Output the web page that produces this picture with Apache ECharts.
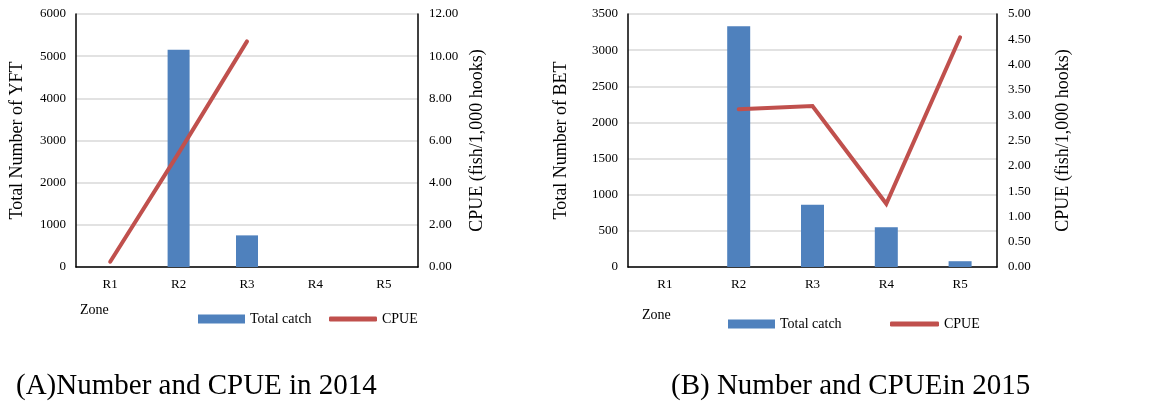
<!DOCTYPE html>
<html>
<head>
<meta charset="utf-8">
<script src="https://cdn.jsdelivr.net/npm/echarts@6/dist/echarts.min.js"></script>
<style>
html,body{margin:0;padding:0;background:#fff;}
#c{width:1163px;height:407px;}
</style>
</head>
<body>
<div id="c"></div>
<script>
const categories = ['R1', 'R2', 'R3', 'R4', 'R5'];
const catch2014 = [0, 5150, 750, 0, 0];
const cpue2014 = [0.25, 5.4, 10.7, null, null];
const catch2015 = [0, 3330, 860, 550, 80];
const cpue2015 = [null, 3.12, 3.18, 1.25, 4.54];
const leftTicks2014 = { min: 0, max: 6000, interval: 1000 };
const rightTicks2014 = { min: 0, max: 12, interval: 2 };
const leftTicks2015 = { min: 0, max: 3500, interval: 500 };
const rightTicks2015 = { min: 0, max: 5, interval: 0.5 };

const FONT = '"Liberation Serif", "Times New Roman", serif';
const BLUE = '#4f81bd';
const RED = '#c0504d';

const chart = echarts.init(document.getElementById('c'));

function xAxis(gi) {
  return {
    type: 'category', gridIndex: gi, data: categories, boundaryGap: true,
    axisLine: { show: true, lineStyle: { color: '#000', width: 1.5 } },
    axisTick: { show: false },
    axisLabel: { color: '#000', fontFamily: FONT, fontSize: 13, margin: 11 },
    splitLine: { show: false }
  };
}
function yLeft(gi, t, name, gap) {
  return {
    type: 'value', gridIndex: gi, min: t.min, max: t.max, interval: t.interval,
    position: 'left',
    name: name, nameLocation: 'middle', nameRotate: 90, nameGap: gap,
    nameTextStyle: { color: '#000', fontFamily: FONT, fontSize: 18 },
    axisLine: { show: true, lineStyle: { color: '#000', width: 1.5 } },
    axisTick: { show: false },
    axisLabel: { color: '#000', fontFamily: FONT, fontSize: 13, margin: 10,
      formatter: v => String(v) },
    splitLine: { show: true, lineStyle: { color: '#d9d9d9', width: 1.5 } }
  };
}
function yRight(gi, t, name, gap) {
  return {
    type: 'value', gridIndex: gi, min: t.min, max: t.max, interval: t.interval,
    position: 'right',
    name: name, nameLocation: 'middle', nameRotate: 90, nameGap: gap,
    nameTextStyle: { color: '#000', fontFamily: FONT, fontSize: 18 },
    axisLine: { show: true, lineStyle: { color: '#000', width: 1.5 } },
    axisTick: { show: false },
    axisLabel: { color: '#000', fontFamily: FONT, fontSize: 13, margin: 11,
      formatter: v => v.toFixed(2) },
    splitLine: { show: false }
  };
}
function legendItem(name, left, top, icon, w, h) {
  return {
    data: [{ name: name, icon: icon }],
    left: left, top: top, itemWidth: w, itemHeight: h,
    selectedMode: false,
    textStyle: { color: '#000', fontFamily: FONT, fontSize: 14 },
    padding: 0
  };
}

chart.setOption({
  animation: false,
  backgroundColor: '#fff',
  textStyle: { fontFamily: FONT },
  title: [
    { text: '(A)Number and CPUE in 2014', left: 16, top: 372, padding: 0,
      textStyle: { fontFamily: FONT, fontSize: 29, fontWeight: 'normal', color: '#000' } },
    { text: '(B) Number and CPUEin 2015', left: 671, top: 372, padding: 0,
      textStyle: { fontFamily: FONT, fontSize: 29, fontWeight: 'normal', color: '#000' } }
  ],
  grid: [
    { left: 76, width: 342, top: 14, height: 253 },
    { left: 628, width: 369, top: 14, height: 253 }
  ],
  xAxis: [xAxis(0), xAxis(1)],
  yAxis: [
    yLeft(0, leftTicks2014, 'Total Number of YFT', 50),
    yRight(0, rightTicks2014, 'CPUE (fish/1,000 hooks)', 50),
    yLeft(1, leftTicks2015, 'Total Number of BET', 58),
    yRight(1, rightTicks2015, 'CPUE (fish/1,000 hooks)', 57)
  ],
  legend: [
    legendItem('Total catch', 198, 312, 'rect', 47, 9),
    legendItem('CPUE', 329, 312, 'roundRect', 48, 5),
    legendItem('Total catch', 728, 317, 'rect', 47, 9),
    legendItem('CPUE', 890, 317, 'roundRect', 49, 5)
  ],
  graphic: [
    { type: 'text', left: 80, top: 303,
      style: { text: 'Zone', fontFamily: FONT, fontSize: 14, fill: '#000' } },
    { type: 'text', left: 642, top: 308,
      style: { text: 'Zone', fontFamily: FONT, fontSize: 14, fill: '#000' } }
  ],
  series: [
    { name: 'Total catch', type: 'bar', xAxisIndex: 0, yAxisIndex: 0,
      data: catch2014, barWidth: 22, itemStyle: { color: BLUE } },
    { name: 'CPUE', type: 'line', xAxisIndex: 0, yAxisIndex: 1,
      data: cpue2014, showSymbol: false, symbol: 'none',
      itemStyle: { color: RED },
      lineStyle: { color: RED, width: 4, cap: 'round', join: 'round' } },
    { name: 'Total catch', type: 'bar', xAxisIndex: 1, yAxisIndex: 2,
      data: catch2015, barWidth: 23, itemStyle: { color: BLUE } },
    { name: 'CPUE', type: 'line', xAxisIndex: 1, yAxisIndex: 3,
      data: cpue2015, showSymbol: false, symbol: 'none',
      itemStyle: { color: RED },
      lineStyle: { color: RED, width: 4, cap: 'round', join: 'miter' } }
  ]
});
</script>
</body>
</html>
